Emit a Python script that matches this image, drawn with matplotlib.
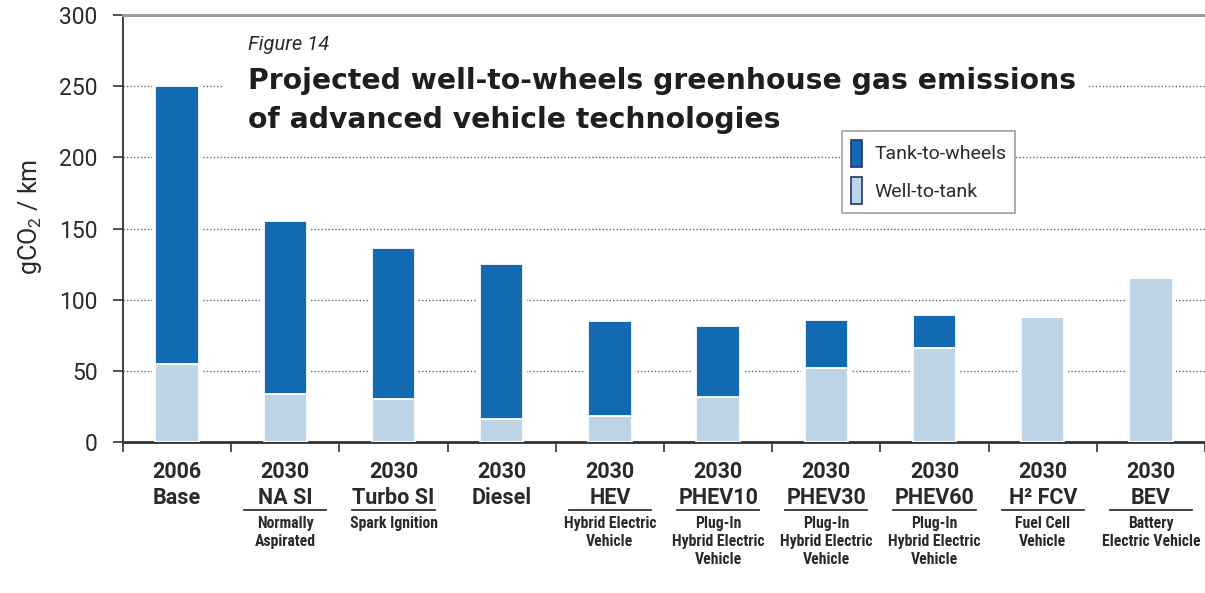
import matplotlib
matplotlib.use("Agg")
import matplotlib.pyplot as plt
import matplotlib.transforms as mtransforms
from matplotlib.patches import Rectangle, Patch
from matplotlib.lines import Line2D

plt.rcParams['font.family'] = ['Roboto', 'DejaVu Sans']
plt.rcParams['mathtext.fontset'] = 'custom'
plt.rcParams['mathtext.rm'] = 'Roboto'
plt.rcParams['mathtext.it'] = 'Roboto:italic'

# ---- data ----
years = ['2006', '2030', '2030', '2030', '2030', '2030', '2030', '2030', '2030', '2030']
names = ['Base', 'NA SI', 'Turbo SI', 'Diesel', 'HEV', 'PHEV10', 'PHEV30', 'PHEV60', 'H² FCV', 'BEV']
sublabels = ['', 'Normally\nAspirated', 'Spark Ignition', '', 'Hybrid Electric\nVehicle',
             'Plug-In\nHybrid Electric\nVehicle', 'Plug-In\nHybrid Electric\nVehicle',
             'Plug-In\nHybrid Electric\nVehicle', 'Fuel Cell\nVehicle', 'Battery\nElectric Vehicle']
well_to_tank = [55, 34, 30.5, 16, 18, 31.5, 52, 66, 88, 115]
tank_to_wheels = [195, 121, 105.5, 109, 67, 50, 34, 23.5, 0, 0]
yticks = [0, 50, 100, 150, 200, 250, 300]

DARK = '#1469B3'
LIGHT = '#BED5E8'
TXT = '#2a2a2a'

W, H = 1205, 593
fig = plt.figure(figsize=(W / 100, H / 100), dpi=100)
ax = fig.add_axes([123 / W, 1 - 442 / H, 1 - 123 / W, (442 - 15) / H])

x = list(range(len(names)))
totals = [a + b for a, b in zip(well_to_tank, tank_to_wheels)]

# white backing behind bars (interrupts gridlines)
ax.bar(x, totals, width=0.46, color='white', edgecolor='none', zorder=2)
ax.bar(x, well_to_tank, width=0.40, color=LIGHT, edgecolor='white', linewidth=1.3, zorder=3)
ax.bar(x, tank_to_wheels, bottom=well_to_tank, width=0.40, color=DARK,
       edgecolor='white', linewidth=1.3, zorder=3)

ax.set_xlim(-0.5, 9.5 - 3 / 108.5)
ax.set_ylim(0, 300)
ax.set_yticks(yticks)
ax.set_yticklabels([str(v) for v in yticks])
for g in yticks[1:-1]:
    ax.axhline(g, color='#666666', linewidth=1.0, linestyle=(0, (1, 1.5)), zorder=1)

ax.spines['right'].set_visible(False)
ax.spines['top'].set_color('#9a9a9a')
ax.spines['top'].set_linewidth(2.2)
ax.spines['left'].set_color('#333333')
ax.spines['left'].set_linewidth(1.3)
ax.spines['bottom'].set_color('#333333')
ax.spines['bottom'].set_linewidth(2.0)

ax.tick_params(axis='y', length=7.2, width=1.2, color='#333333', pad=11,
               labelsize=16.5, labelcolor=TXT)
ax.set_xticks([i + 0.5 for i in range(-1, 10)], minor=False)
ax.set_xticklabels([])
ax.tick_params(axis='x', length=7.5, width=1.2, color='#333333', direction='out')

# x labels
tr = mtransforms.blended_transform_factory(ax.transData, fig.transFigure)
NARROW = ['Liberation Sans Narrow', 'Roboto Condensed', 'DejaVu Sans']
for i in x:
    ax.text(i, 1 - 478 / H, years[i], transform=tr, ha='center', va='baseline',
            fontsize=15.5, fontweight='bold', color=TXT)
    ax.text(i, 1 - 504 / H, names[i], transform=tr, ha='center', va='baseline',
            fontsize=15.5, fontweight='bold', color=TXT)
    if sublabels[i]:
        ax.add_line(Line2D([i - 0.38, i + 0.38], [1 - 510 / H, 1 - 510 / H], transform=tr,
                           color='#333333', linewidth=1.3, clip_on=False))
        for j, line in enumerate(sublabels[i].split('\n')):
            ax.text(i, 1 - (528 + 18 * j) / H, line, transform=tr, ha='center', va='baseline',
                    fontsize=11.3, fontweight='bold', color=TXT, family=NARROW)

# y label
fig.text(30 / W, 1 - 217 / H, 'gCO$_\\mathrm{2}$ / km', rotation=90, ha='center', va='center',
         fontsize=18, color=TXT)

# title block
ax.add_patch(Rectangle((224 / W, 1 - 135 / H), (1087 - 224) / W, 110 / H,
                       transform=fig.transFigure, facecolor='white', edgecolor='none',
                       zorder=2.5, clip_on=False))
fig.text(248 / W, 1 - 50 / H, 'Figure 14', fontsize=14.5, style='italic', color=TXT, va='baseline')
TITLE_FONT = ['DejaVu Sans']
fig.text(248 / W, 1 - 89 / H, 'Projected well-to-wheels greenhouse gas emissions',
         fontsize=20.3, fontweight='bold', color='#1e1e1e', va='baseline', family=TITLE_FONT)
fig.text(248 / W, 1 - 128 / H, 'of advanced vehicle technologies',
         fontsize=20.3, fontweight='bold', color='#1e1e1e', va='baseline', family=TITLE_FONT)

# legend
handles = [Patch(facecolor=DARK, edgecolor='#22336e', linewidth=1.2, label='Tank-to-wheels'),
           Patch(facecolor=LIGHT, edgecolor='#22336e', linewidth=1.2, label='Well-to-tank')]
leg = fig.legend(handles=handles, loc='upper left', bbox_to_anchor=(842 / W, 1 - 131 / H),
                 frameon=True, fancybox=False, framealpha=1, edgecolor='#a0a8b0',
                 fontsize=14, handlelength=0.6, handleheight=1.75, handletextpad=0.6,
                 labelspacing=0.55, borderpad=0.45, borderaxespad=0)
leg.get_frame().set_linewidth(1.3)
for t in leg.get_texts():
    t.set_color(TXT)

fig.savefig('out.png', dpi=100)
